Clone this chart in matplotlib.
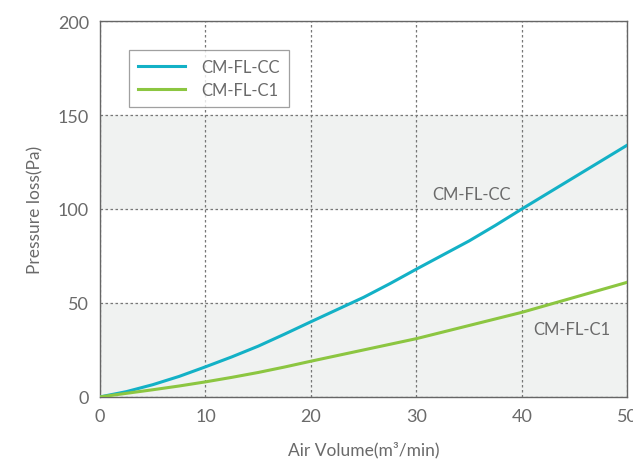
import numpy as np
import matplotlib.pyplot as plt

air_volume = [0, 2.5, 5, 7.5, 10, 12.5, 15, 17.5, 20, 22.5, 25,
              27.5, 30, 32.5, 35, 37.5, 40, 42.5, 45, 47.5, 50]
loss_cc = [0, 2.8, 6.5, 10.9, 16, 21.3, 27, 33.4, 40, 46.5, 53,
           60.3, 68, 75.5, 83, 91.3, 100, 108.5, 117, 125.5, 134]
loss_c1 = [0, 1.9, 3.8, 5.8, 8, 10.4, 13, 15.9, 19, 22, 25,
           28, 31, 34.5, 38, 41.5, 45, 49, 53, 57, 61]

x_ticks = [0, 10, 20, 30, 40, 50]
y_ticks = [0, 50, 100, 150, 200]

txt = '#6a6a6a'
plt.rcParams['font.family'] = ['Lato', 'DejaVu Sans']

fig = plt.figure(figsize=(6.33, 4.6), dpi=100)
ax = fig.add_axes([0.158, 0.135, 0.833, 0.817])

# grey bands
ax.axhspan(0, 50, color='#f0f2f1', zorder=0)
ax.axhspan(100, 150, color='#f0f2f1', zorder=0)

ax.plot(air_volume, loss_cc, color='#13b1c6', lw=2.2, label='CM-FL-CC', zorder=3)
ax.plot(air_volume, loss_c1, color='#8cc641', lw=2.2, label='CM-FL-C1', zorder=3)

ax.set_xlim(0, 50)
ax.set_ylim(0, 200)
ax.set_xticks(x_ticks)
ax.set_yticks(y_ticks)
ax.grid(True, color='#777777', linestyle=(0, (2, 2)), linewidth=0.9, zorder=1)
ax.set_axisbelow(True)
ax.tick_params(length=0, labelsize=13, labelcolor=txt, pad=8)
for s in ax.spines.values():
    s.set_color('#666666')
    s.set_linewidth(1.0)

ax.set_xlabel('Air Volume(m³/min)', fontsize=12.5, color=txt, labelpad=12)
ax.set_ylabel('Pressure loss(Pa)', fontsize=12.5, color=txt, labelpad=10)

ax.text(35.2, 108, 'CM-FL-CC', fontsize=12, color=txt, ha='center', va='center')
ax.text(44.7, 36, 'CM-FL-C1', fontsize=12, color=txt, ha='center', va='center')

leg = ax.legend(loc='upper left', bbox_to_anchor=(0.055, 0.923), fontsize=12,
                frameon=True, fancybox=False, edgecolor='#888888',
                handlelength=2.8, borderpad=0.55, labelspacing=0.4,
                handletextpad=1.0, borderaxespad=0)
leg.get_frame().set_linewidth(0.9)
for t in leg.get_texts():
    t.set_color(txt)

fig.savefig('out.png', dpi=100)
